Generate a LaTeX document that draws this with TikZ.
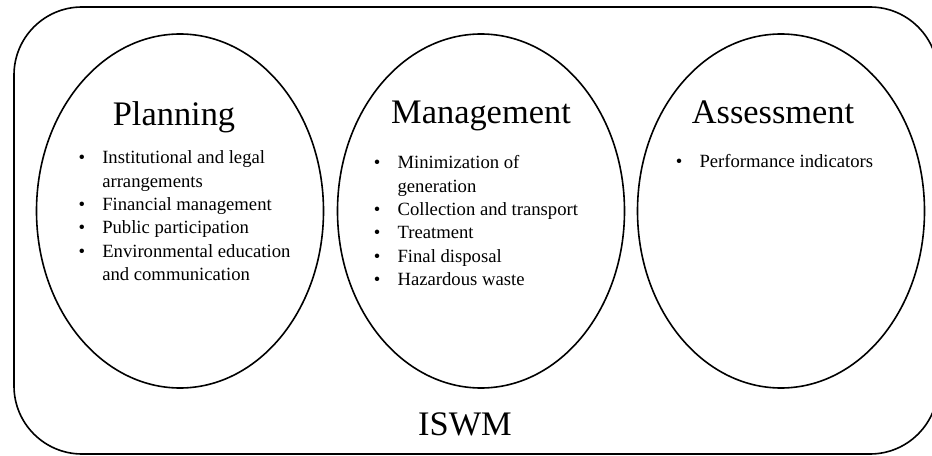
\documentclass[tikz,border=0pt]{standalone}
\usepackage{fontspec}
\setmainfont{Liberation Serif}
\usepackage{tikz}
\usetikzlibrary{positioning,shapes.geometric}
\newcommand{\itm}{\makebox[17.7pt][l]{\textbullet}}
\newcommand{\nxt}{\hspace*{17.7pt}}
\tikzset{
  outerbox/.style={draw, line width=1.2pt, rounded corners=51pt, minimum width=693pt, minimum height=335.25pt,
              inner sep=0pt},
  oval/.style={draw, ellipse, line width=1.2pt, minimum width=215.25pt, minimum height=265.5pt, inner sep=0pt},
  head/.style={font=\fontsize{25.8}{31}\selectfont, anchor=base, inner sep=0pt},
  items/.style={font=\fontsize{14}{17.5}\selectfont, anchor=base west, inner sep=0pt},
}

\begin{document}
\begin{tikzpicture}[x=0.75pt, y=-0.75pt]
    \clip (0,0) rectangle (932,456);
    \node[outerbox] (iswm) at (476,230.5) {};
    \node[oval] (plan) at (180,211) {};
    \node[oval] (mgmt) at (481,211) {};
    \node[oval] (assess) at (781,211) {};
    \node[head] (plantitle) at (174,126) {Planning};
    \node[head] (mgmttitle) at (481,124) {Management};
    \node[head] (assesstitle) at (773,124) {Assessment};
    \node[items] (planlist) at (78.4,164) {\begin{tabular}[t]{@{}l@{}}
      \itm Institutional and legal\\ \nxt arrangements\\ \itm Financial management\\
      \itm Public participation\\ \itm Environmental education\\ \nxt and communication\end{tabular}};
    \node[items] (mgmtlist) at (373.7,169) {\begin{tabular}[t]{@{}l@{}}
      \itm Minimization of\\ \nxt generation\\ \itm Collection and transport\\
      \itm Treatment\\ \itm Final disposal\\ \itm Hazardous waste\end{tabular}};
    \node[items] (assesslist) at (675.7,168) {\begin{tabular}[t]{@{}l@{}}
      \itm Performance indicators\end{tabular}};
    \node[head] (iswmlabel) at (465,435) {ISWM};
  \end{tikzpicture}
\end{document}
